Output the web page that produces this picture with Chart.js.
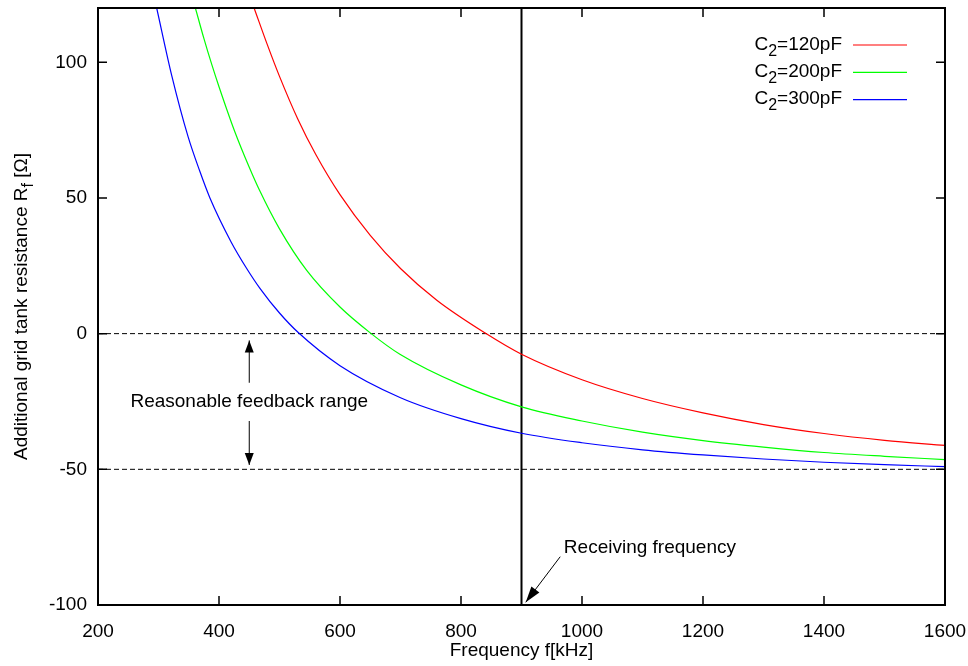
<!DOCTYPE html>
<html>
<head>
<meta charset="utf-8">
<script src="https://cdn.jsdelivr.net/npm/chart.js@4.4.0/dist/chart.umd.min.js"></script>
<style>
  body { margin: 0; background: #fff; }
  #wrap { width: 968px; height: 666px; }
</style>
</head>
<body>
<div id="wrap"><canvas id="chart" width="968" height="666"></canvas></div>
<script>
// values: frequency [kHz] -> Rf [ohm]
var f120 = [458, 480, 500, 530, 560, 600, 650, 700, 760, 840, 900, 1000, 1100, 1200, 1300, 1400, 1500, 1600];
var r120 = [120, 106.4, 94.8, 79.2, 66, 51.2, 36.2, 24, 12.3, 0.2, -7.6, -17, -23.9, -29.2, -33.5, -36.8, -39.3, -41.2];

var f200 = [361, 375, 388, 400, 426, 450, 467, 500, 545, 600, 651, 699, 800, 900, 1000, 1100, 1200, 1300, 1400, 1500, 1600];
var r200 = [120, 108.8, 99.2, 91, 74.5, 61.3, 52.8, 38.6, 23.3, 9.8, 0.1, -7.6, -18.9, -27, -32.2, -36.3, -39.4, -41.8, -43.8, -45.2, -46.4];

var f300 = [297, 322, 349, 368, 385, 420, 445, 468, 500, 531, 600, 700, 800, 900, 1000, 1100, 1200, 1300, 1400, 1500, 1600];
var r300 = [120, 95, 72.5, 60, 50, 33.8, 24.3, 16.6, 7.6, 0.4, -11.8, -23.6, -31.3, -36.7, -40.2, -42.8, -44.7, -46.2, -47.4, -48.3, -49];

var capValues = ["120", "200", "300"];   // C2 in pF, for the key
var xTicks = [200, 400, 600, 800, 1000, 1200, 1400, 1600];
var yTicks = [-100, -50, 0, 50, 100];
var yMin = -100, yMax = 120;
var rangeLevels = [0, -50];     // dashed lines
var receivingFreq = 900;        // solid vertical line

var FONT = '"Liberation Sans", Arial, Helvetica, sans-serif';
Chart.defaults.font.family = FONT;
Chart.defaults.font.size = 19;
Chart.defaults.color = "#000";

function toPoints(fs, rs) {
  return fs.map(function (f, i) { return { x: f, y: rs[i] }; });
}

// text made of pieces, some of them subscript: [text, isSub]
function richText(ctx, parts, x, y, align) {
  var w = 0;
  parts.forEach(function (p) {
    ctx.font = (p[1] ? 16 : 19) + "px " + FONT;
    w += ctx.measureText(p[0]).width;
  });
  var cx = x;
  if (align === "right") cx = x - w;
  if (align === "center") cx = x - w / 2;
  ctx.textAlign = "left";
  parts.forEach(function (p) {
    ctx.font = (p[1] ? 16 : 19) + "px " + FONT;
    ctx.fillText(p[0], cx, y + (p[1] ? 6 : 0));
    cx += ctx.measureText(p[0]).width;
  });
}

function arrow(ctx, x1, y1, x2, y2, len, half) {
  ctx.beginPath();
  ctx.moveTo(x1, y1);
  ctx.lineTo(x2, y2);
  ctx.stroke();
  var ang = Math.atan2(y2 - y1, x2 - x1);
  ctx.beginPath();
  ctx.moveTo(x2, y2);
  ctx.lineTo(x2 - len * Math.cos(ang) + half * Math.sin(ang), y2 - len * Math.sin(ang) - half * Math.cos(ang));
  ctx.lineTo(x2 - len * Math.cos(ang) - half * Math.sin(ang), y2 - len * Math.sin(ang) + half * Math.cos(ang));
  ctx.closePath();
  ctx.fill();
}

var overlay = {
  id: "overlay",
  afterDatasetsDraw: function (chart) {
    var ctx = chart.ctx, a = chart.chartArea;
    var xs = chart.scales.x, ys = chart.scales.y;
    ctx.save();
    ctx.strokeStyle = "#000";
    ctx.fillStyle = "#000";

    // frame + inward ticks on all sides (gnuplot style)
    ctx.lineWidth = 2;
    ctx.strokeRect(a.left, a.top, a.right - a.left, a.bottom - a.top);
    ctx.lineWidth = 1.5;
    ctx.beginPath();
    xTicks.forEach(function (v) {
      var px = xs.getPixelForValue(v);
      ctx.moveTo(px, a.bottom); ctx.lineTo(px, a.bottom - 9);
      ctx.moveTo(px, a.top); ctx.lineTo(px, a.top + 9);
    });
    yTicks.forEach(function (v) {
      var py = ys.getPixelForValue(v);
      ctx.moveTo(a.left, py); ctx.lineTo(a.left + 9, py);
      ctx.moveTo(a.right, py); ctx.lineTo(a.right - 9, py);
    });
    ctx.stroke();

    // key
    var colors = ["#ff0000", "#00ff00", "#0000ff"];
    ctx.textBaseline = "alphabetic";
    capValues.forEach(function (c, i) {
      var ly = a.top + 37 + i * 27.3;
      richText(ctx, [["C", false], ["2", true], ["=" + c + "pF", false]], a.right - 103, ly + 4.5, "right");
      ctx.strokeStyle = colors[i];
      ctx.lineWidth = 1.2;
      ctx.beginPath();
      ctx.moveTo(a.right - 92, ly);
      ctx.lineTo(a.right - 38, ly);
      ctx.stroke();
    });

    // feedback range arrows and label
    ctx.strokeStyle = "#000";
    ctx.fillStyle = "#000";
    ctx.lineWidth = 1;
    var ax = xs.getPixelForValue(450);
    arrow(ctx, ax, ys.getPixelForValue(-18.1), ax, ys.getPixelForValue(-2.5), 12, 4.5);
    arrow(ctx, ax, ys.getPixelForValue(-32.2), ax, ys.getPixelForValue(-48.4), 12, 4.5);
    ctx.font = "19px " + FONT;
    ctx.textAlign = "center";
    ctx.textBaseline = "middle";
    ctx.fillText("Reasonable feedback range", ax, ys.getPixelForValue(-25.2));

    // receiving frequency label
    arrow(ctx, xs.getPixelForValue(964), ys.getPixelForValue(-82.2),
      xs.getPixelForValue(907), ys.getPixelForValue(-99), 16, 5);
    ctx.textAlign = "left";
    ctx.fillText("Receiving frequency", xs.getPixelForValue(970), ys.getPixelForValue(-78.8));

    // y axis title with subscript f
    ctx.translate(27, (a.top + a.bottom) / 2);
    ctx.rotate(-Math.PI / 2);
    ctx.textBaseline = "alphabetic";
    richText(ctx, [["Additional grid tank resistance R", false], ["f", true], [" [\u03a9]", false]], 0, 0, "center");
    ctx.restore();
  }
};

var refSets = rangeLevels.map(function (lv) {
  return {
    data: [{ x: xTicks[0], y: lv }, { x: xTicks[xTicks.length - 1], y: lv }],
    borderColor: "#000",
    borderWidth: 1,
    borderDash: [5, 3],
    pointRadius: 0
  };
});

var ctx = document.getElementById("chart").getContext("2d");
var chart = new Chart(ctx, {
  type: "line",
  data: {
    datasets: [
      { data: toPoints(f120, r120), borderColor: "#ff0000", borderWidth: 1.2, pointRadius: 0, cubicInterpolationMode: "monotone" },
      { data: toPoints(f200, r200), borderColor: "#00ff00", borderWidth: 1.2, pointRadius: 0, cubicInterpolationMode: "monotone" },
      { data: toPoints(f300, r300), borderColor: "#0000ff", borderWidth: 1.2, pointRadius: 0, cubicInterpolationMode: "monotone" },
      refSets[0],
      refSets[1],
      {
        data: [{ x: receivingFreq, y: yMin }, { x: receivingFreq, y: yMax }],
        borderColor: "#000",
        borderWidth: 2,
        pointRadius: 0
      }
    ]
  },
  options: {
    responsive: false,
    animation: false,
    devicePixelRatio: 1,
    layout: { padding: { top: 8, right: 23, left: 0, bottom: 0 } },
    plugins: { legend: { display: false }, tooltip: { enabled: false } },
    scales: {
      x: {
        type: "linear",
        min: 200,
        max: 1600,
        grid: { display: false },
        border: { display: false },
        ticks: { padding: 7, autoSkip: false, maxRotation: 0, callback: function (v) { return String(v); } },
        title: { display: true, text: "Frequency f[kHz]", padding: { top: 0, bottom: 4 } },
        afterBuildTicks: function (s) { s.ticks = xTicks.map(function (v) { return { value: v }; }); },
        afterFit: function (s) { s.height = 61; s.paddingLeft = 0; s.paddingRight = 0; }
      },
      y: {
        type: "linear",
        min: yMin,
        max: yMax,
        grid: { display: false },
        border: { display: false },
        ticks: { padding: 3, autoSkip: false, callback: function (v) { return String(v); } },
        afterBuildTicks: function (s) { s.ticks = yTicks.map(function (v) { return { value: v }; }); },
        afterFit: function (s) { s.width = 98; s.paddingTop = 0; s.paddingBottom = 0; }
      }
    }
  },
  plugins: [overlay]
});
</script>
</body>
</html>
